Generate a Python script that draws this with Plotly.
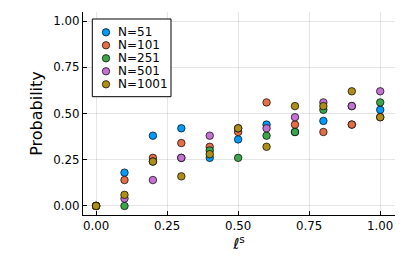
import plotly.graph_objects as go

x_vals = [0.0, 0.1, 0.2, 0.3, 0.4, 0.5, 0.6, 0.7, 0.8, 0.9, 1.0]
series_names = ["N=51", "N=101", "N=251", "N=501", "N=1001"]
p_n51 = [0.0, 0.18, 0.38, 0.42, 0.26, 0.36, 0.44, 0.40, 0.46, 0.44, 0.52]
p_n101 = [0.0, 0.14, 0.26, 0.34, 0.32, 0.40, 0.56, 0.44, 0.40, 0.44, 0.48]
p_n251 = [0.0, 0.0, 0.24, 0.26, 0.30, 0.26, 0.38, 0.40, 0.52, 0.54, 0.56]
p_n501 = [0.0, 0.04, 0.14, 0.26, 0.38, 0.42, 0.42, 0.48, 0.56, 0.54, 0.62]
p_n1001 = [0.0, 0.06, 0.24, 0.16, 0.28, 0.42, 0.32, 0.54, 0.54, 0.62, 0.48]
colors = ["#009AFA", "#E36F47", "#3EA44E", "#C371D2", "#AC8E18"]
x_ticks = [0.0, 0.25, 0.5, 0.75, 1.0]
y_ticks = [0.0, 0.25, 0.5, 0.75, 1.0]
tick_labels = ["0.00", "0.25", "0.50", "0.75", "1.00"]

fig = go.Figure()
for name, ys, c in zip(series_names, [p_n51, p_n101, p_n251, p_n501, p_n1001], colors):
    fig.add_trace(go.Scatter(x=x_vals, y=ys, mode="markers", name=name, showlegend=False,
                             marker=dict(color=c, size=7.5, line=dict(color="black", width=0.7))))

font = "DejaVu Sans, sans-serif"
axis_common = dict(showgrid=True, gridcolor="rgba(0,0,0,0.1)", gridwidth=0.5,
                   zeroline=False, showline=True, linecolor="black", linewidth=1,
                   ticks="inside", ticklen=4, tickcolor="black", tickwidth=0.5,
                   tickfont=dict(family=font, size=11.8, color="black"), mirror=False,
                   automargin=False)

# custom compact legend (box, marker swatches, labels) in paper coordinates
plot_w, plot_h = 312.0, 203.0
box_x0, box_x1 = (92.3 - 83) / plot_w, (171 - 83) / plot_w
box_y1, box_y0 = (215 - 19) / plot_h, (215 - 96.7) / plot_h
shapes = [dict(type="rect", xref="paper", yref="paper", x0=box_x0, x1=box_x1,
               y0=box_y0, y1=box_y1, line=dict(color="black", width=1),
               fillcolor="white", layer="above")]
annotations = []
row_px = [32.3, 45.3, 58.3, 71.3, 84.3]
mx = (106 - 83) / plot_w
tx = (116 - 83) / plot_w
for name, c, ry in zip(series_names, colors, row_px):
    yp = (215 - ry) / plot_h
    shapes.append(dict(type="circle", xref="paper", yref="paper", xsizemode="pixel",
                       ysizemode="pixel", xanchor=mx, yanchor=yp, x0=-3.7, x1=3.7,
                       y0=-3.7, y1=3.7, fillcolor=c, line=dict(color="black", width=0.7),
                       layer="above"))
    annotations.append(dict(xref="paper", yref="paper", x=tx, y=yp, text=name,
                            showarrow=False, xanchor="left", yanchor="middle",
                            font=dict(family=font, size=12, color="black")))

fig.update_layout(
    width=407, height=271,
    margin=dict(l=75, r=20, t=4, b=64),
    paper_bgcolor="white", plot_bgcolor="white",
    font=dict(family=font, color="black"),
    showlegend=False,
    shapes=shapes, annotations=annotations,
    xaxis=dict(range=[-0.046, 1.052], tickvals=x_ticks, ticktext=tick_labels,
               title=dict(text="ℓ<sup>s</sup>", font=dict(family=font, size=15), standoff=5),
               **axis_common),
    yaxis=dict(range=[-0.049, 1.049], tickvals=y_ticks, ticktext=tick_labels,
               title=dict(text="Probability", font=dict(family=font, size=16), standoff=6),
               **axis_common),
)

fig.write_html("out.html")
